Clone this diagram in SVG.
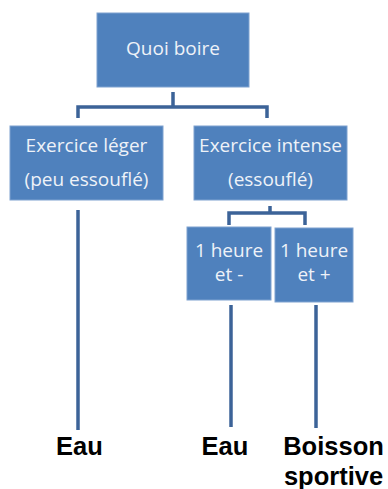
<svg xmlns="http://www.w3.org/2000/svg" width="388" height="489" viewBox="0 0 388 489">
<style>
.box{fill:#4F81BD;stroke:#7FA2D0;stroke-width:1}
.bt{fill:#EEF2F8;font-family:"Open Sans","DejaVu Sans",sans-serif;font-size:19px;text-anchor:middle}
.ln{fill:none;stroke:#3C6398;stroke-width:3.5}
.lb{fill:#000;font-family:"Liberation Sans",Arial,sans-serif;font-weight:bold;font-size:25.5px;text-anchor:middle}
</style>
<rect width="388" height="489" fill="#fff"/>
<g id="connectors">
<path class="ln" d="M173 92V107M78 118V107H267V118"/>
<path class="ln" d="M270 206V213M229 225V213H305V225"/>
<path class="ln" d="M78 210V430"/>
<path class="ln" d="M231 305V427"/>
<path class="ln" d="M316 305V428"/>
</g>
<g id="quoi">
<rect class="box" x="97" y="13" width="152" height="74"/>
<text class="bt" x="173" y="55">Quoi boire</text>
</g>
<g id="leger">
<rect class="box" x="10" y="126" width="153" height="74"/>
<text class="bt" x="86.5" y="152">Exercice léger</text>
<text class="bt" x="86.5" y="186">(peu essouflé)</text>
</g>
<g id="intense">
<rect class="box" x="194" y="126" width="153" height="74"/>
<text class="bt" x="270.5" y="152">Exercice intense</text>
<text class="bt" x="270.5" y="186">(essouflé)</text>
</g>
<g id="moins">
<rect class="box" x="187" y="227" width="84" height="73"/>
<text class="bt" x="229" y="257">1 heure</text>
<text class="bt" x="229" y="281">et -</text>
</g>
<g id="plus">
<rect class="box" x="275" y="228" width="78" height="74"/>
<text class="bt" x="314" y="257">1 heure</text>
<text class="bt" x="314" y="281">et +</text>
</g>
<g id="eau1"><text class="lb" x="79.5" y="455">Eau</text></g>
<g id="eau2"><text class="lb" x="225" y="455">Eau</text></g>
<g id="boisson"><text class="lb" x="333.5" y="455">Boisson</text><text class="lb" x="333.5" y="485">sportive</text></g>
</svg>
